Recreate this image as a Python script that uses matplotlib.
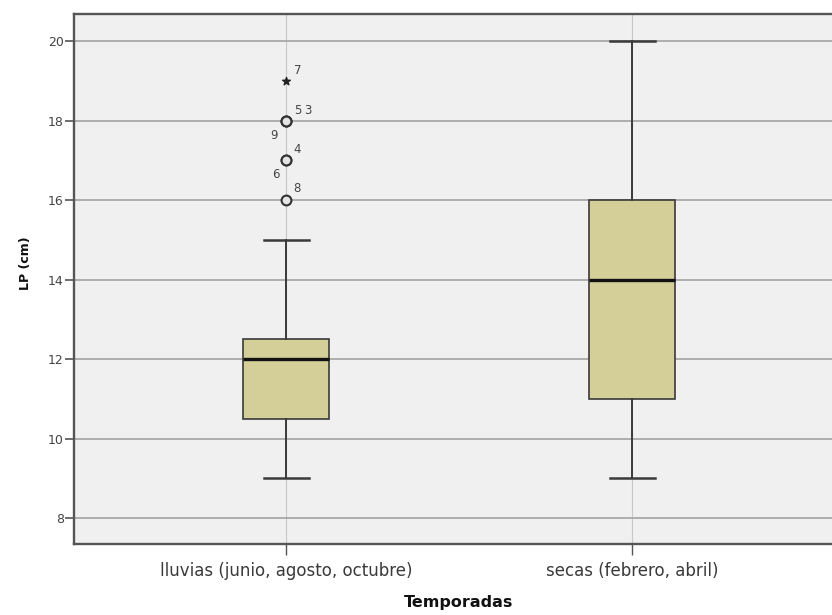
import matplotlib.pyplot as plt

plt.rcParams['font.family'] = ['DejaVu Sans']

# data
categories = ["lluvias (junio, agosto, octubre)", "secas (febrero, abril)"]
whislo = [9, 9]
q1 = [10.5, 11]
med = [12, 14]
q3 = [12.5, 16]
whishi = [15, 20]
outliers_1 = [16, 17, 17, 18, 18, 18]
outlier_ids_1 = ["8", "4", "6", "5", "3", "9"]
extremes_1 = [19]
extreme_ids_1 = ["7"]
y_ticks = [8, 10, 12, 14, 16, 18, 20]

fig = plt.figure(figsize=(8.32, 6.15), dpi=100)
ax = fig.add_axes([0.089, 0.1154, 0.9255, 0.8618])
ax.set_facecolor('#f0f0f0')

stats = []
for i in range(len(categories)):
    stats.append({'whislo': whislo[i], 'q1': q1[i], 'med': med[i],
                  'q3': q3[i], 'whishi': whishi[i], 'fliers': []})

ax.bxp(stats, positions=[1, 2], widths=0.25, capwidths=0.13,
       patch_artist=True, showfliers=False,
       boxprops=dict(facecolor='#d4cf98', edgecolor='#3a3a3a', linewidth=1.2),
       medianprops=dict(color='#111111', linewidth=2.4),
       whiskerprops=dict(color='#3a3a3a', linewidth=1.4),
       capprops=dict(color='#3a3a3a', linewidth=1.8), zorder=3)

# outliers (circles) and extremes (stars) of the first group
ax.scatter([1] * len(outliers_1), outliers_1, s=50, marker='o',
           facecolors='#e4e4e4', edgecolors='#333333', linewidths=1.5, zorder=4)
ax.scatter([1] * len(extremes_1), extremes_1, s=34, marker='*',
           color='#222222', zorder=4)

# case numbers next to the outliers
offsets = {"8": (8, 8.5), "4": (8, 8), "6": (-7.5, -10.5), "5": (8.5, 7.2),
           "3": (16, 7.2), "9": (-9, -10.5), "7": (8.5, 7.2)}
for y, lab in zip(outliers_1 + extremes_1, outlier_ids_1 + extreme_ids_1):
    ax.annotate(lab, (1, y), xytext=offsets[lab], textcoords='offset points',
                fontsize=8.5, color='#444444', ha='center', va='center')

ax.set_xlim(0.387, 2.613)
ax.set_ylim(7.35, 20.68)
ax.set_yticks(y_ticks)
ax.set_xticks([1, 2])
ax.set_xticklabels(categories)

ax.grid(axis='y', color='#a8a8a8', linewidth=1.3, zorder=0)
ax.grid(axis='x', color='#c8c8c8', linewidth=0.8, zorder=0)
ax.set_axisbelow(True)

for side in ['top', 'bottom', 'left', 'right']:
    ax.spines[side].set_color('#555555')
    ax.spines[side].set_linewidth(1.7)

ax.tick_params(axis='y', length=6.5, width=1.2, color='#555555', pad=1,
               labelsize=9, labelcolor='#444444')
ax.tick_params(axis='x', length=8, width=1.0, color='#555555', pad=5,
               labelsize=12, labelcolor='#3a3a3a')

ax.set_ylabel('LP (cm)', fontsize=9, fontweight='bold', color='#111111')
ax.yaxis.set_label_coords(-0.0545, 0.53)
ax.set_xlabel('Temporadas', fontsize=11.5, fontweight='bold', color='#111111')
ax.xaxis.set_label_coords(0.5, -0.097)

fig.savefig('out.png', dpi=100)
